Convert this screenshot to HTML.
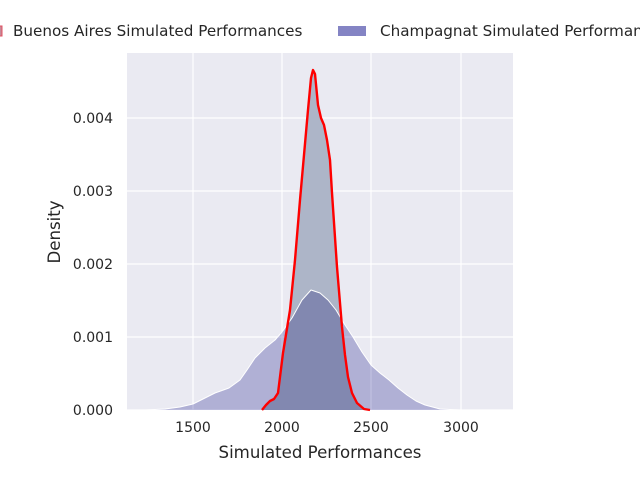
<!DOCTYPE html>
<html><head><style>body{margin:0;background:#fff}svg{display:block;font-family:"DejaVu Sans","Liberation Sans",sans-serif}</style></head>
<body>
<svg width="640" height="480" viewBox="0 0 640 480">
<rect x="127" y="53" width="386" height="357" fill="#eaeaf2"/>
<g stroke="#fff" stroke-width="1.2">
<line x1="193" y1="53" x2="193" y2="410"/><line x1="282" y1="53" x2="282" y2="410"/><line x1="371" y1="53" x2="371" y2="410"/><line x1="461" y1="53" x2="461" y2="410"/>
<line x1="127" y1="410" x2="513" y2="410"/><line x1="127" y1="337" x2="513" y2="337"/><line x1="127" y1="264" x2="513" y2="264"/><line x1="127" y1="191" x2="513" y2="191"/><line x1="127" y1="118" x2="513" y2="118"/>
</g>
<path d="M262,410 L266,405 L270,401 L274,399 L278,393 L283,353 L290,310 L295,260 L300,200 L304,155 L308,110 L311,78 L313,70 L315,74 L318,105 L321,118 L324,125 L327,140 L330,160 L332,193 L337,267 L342,327 L345,355 L348,377 L352,393 L357,403 L364,409 L370,410 Z" fill="#adb5c8"/>
<path d="M145,410 L165,409 L180,407 L193,404 L205,398 L215,393 L229,388 L240,380 L247,370 L255,358 L265,348 L275,340 L282,332 L292,318 L302,300 L311,290 L320,293 L328,300 L336,310 L345,325 L353,337 L362,352 L371,365 L380,373 L389,380 L398,388 L407,395 L416,401 L425,405 L440,409 L460,410 L498,410 Z" fill="#c0c0e1" style="mix-blend-mode:multiply"/>
<path d="M145,410 L165,409 L180,407 L193,404 L205,398 L215,393 L229,388 L240,380 L247,370 L255,358 L265,348 L275,340 L282,332 L292,318 L302,300 L311,290 L320,293 L328,300 L336,310 L345,325 L353,337 L362,352 L371,365 L380,373 L389,380 L398,388 L407,395 L416,401 L425,405 L440,409 L460,410 L498,410" fill="none" stroke="#fff" stroke-width="1" stroke-linejoin="round"/>
<path d="M262,410 L266,405 L270,401 L274,399 L278,393 L283,353 L290,310 L295,260 L300,200 L304,155 L308,110 L311,78 L313,70 L315,74 L318,105 L321,118 L324,125 L327,140 L330,160 L332,193 L337,267 L342,327 L345,355 L348,377 L352,393 L357,403 L364,409 L370,410" fill="none" stroke="#f00" stroke-width="2.4" stroke-linejoin="round"/>
<g font-size="14" fill="#262626" text-anchor="middle">
<text x="193" y="432">1500</text><text x="282" y="432">2000</text><text x="371" y="432">2500</text><text x="461" y="432">3000</text>
</g>
<g font-size="14" fill="#262626" text-anchor="end">
<text x="113" y="415">0.000</text><text x="113" y="342">0.001</text><text x="113" y="269">0.002</text><text x="113" y="196">0.003</text><text x="113" y="123">0.004</text>
</g>
<text x="320" y="458" font-size="16.6" fill="#262626" text-anchor="middle">Simulated Performances</text>
<text transform="translate(60,232) rotate(-90)" font-size="16.6" fill="#262626" text-anchor="middle">Density</text>
<rect x="-20" y="26" width="22" height="10" fill="#c78a99" stroke="#e05060" stroke-width="1"/>
<text x="13" y="36" font-size="15.2" fill="#262626">Buenos Aires Simulated Performances</text>
<rect x="338" y="26" width="28" height="10" fill="#8484c4"/>
<text x="380" y="36" font-size="15.2" fill="#262626">Champagnat Simulated Performances</text>
</svg>
</body></html>
